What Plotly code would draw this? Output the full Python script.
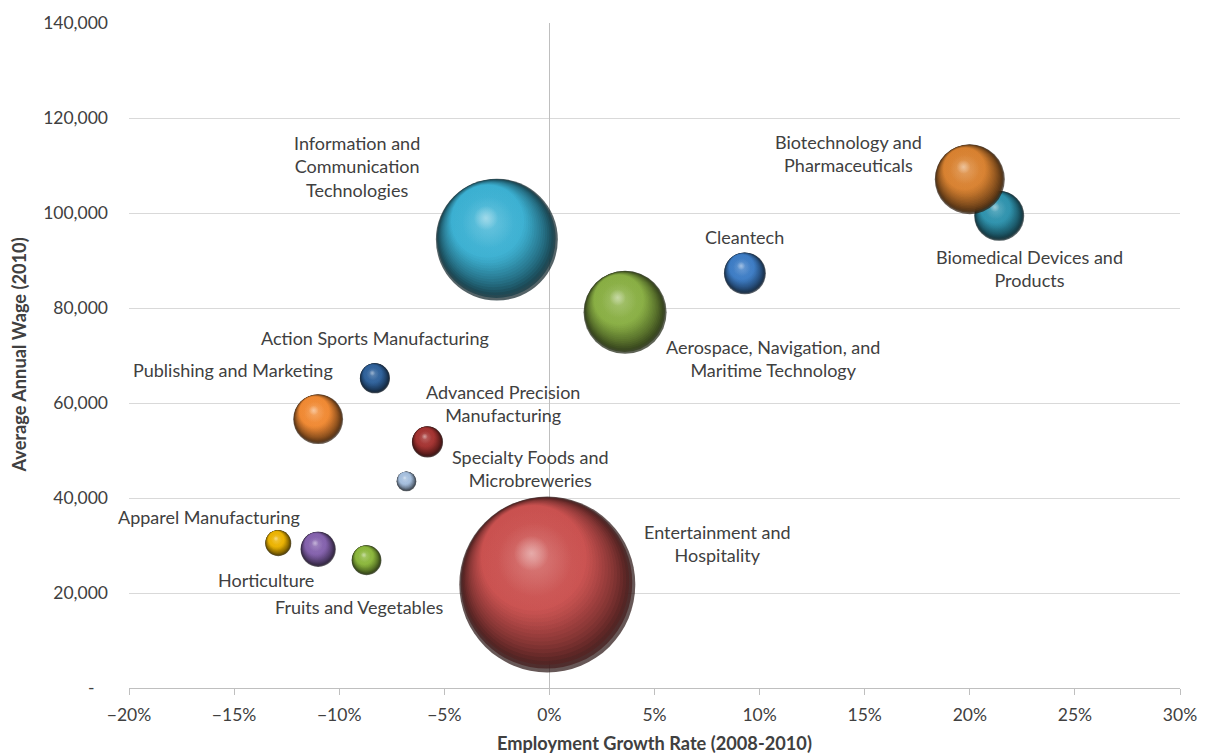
import numpy as np
import plotly.graph_objects as go

# ---- data -------------------------------------------------------------
clusters = [
    "Information and<br>Communication<br>Technologies",
    "Aerospace, Navigation, and<br>Maritime Technology",
    "Cleantech",
    "Biomedical Devices and<br>Products",
    "Biotechnology and<br>Pharmaceuticals",
    "Entertainment and<br>Hospitality",
    "Action Sports Manufacturing",
    "Publishing and Marketing",
    "Advanced Precision<br>Manufacturing",
    "Specialty Foods and<br>Microbreweries",
    "Apparel Manufacturing",
    "Horticulture",
    "Fruits and Vegetables",
]
growth_rate = [-0.025, 0.036, 0.093, 0.214, 0.200, -0.001, -0.083,
               -0.110, -0.058, -0.068, -0.129, -0.110, -0.087]
avg_wage = [94400, 79100, 87300, 99400, 107100, 21800, 65200,
            56600, 51800, 43500, 30500, 29200, 26900]
employment = [72000, 33400, 8500, 12100, 23700, 150000, 4400,
              12000, 4700, 1900, 3300, 6000, 4300]

y_tick_vals = [0, 20000, 40000, 60000, 80000, 100000, 120000, 140000]
y_tick_text = ["-\u00a0\u00a0\u00a0", "20,000", "40,000", "60,000", "80,000",
               "100,000", "120,000", "140,000"]

# ---- styles -----------------------------------------------------------
sphere_colors = ["#3CB2D4", "#8AB044", "#3D7DC6", "#2E93AE", "#DA8230",
                 "#CC5250", "#2F629C", "#F28A33", "#A53331", "#A6C0DF",
                 "#EDB400", "#8562AE", "#8CB83C"]
# label offsets from the bubble centre, in pixels (x right, y up)
label_shift = [(-140, 73), (148, -46), (0, 36), (30, -53), (-121, 26),
               (170, 41), (0, 40), (-85, 49), (76, 38), (124, 13),
               (-69, 26), (-52, -31), (-8, -47)]

FONT = "Lato, Calibri, sans-serif"
TEXT = "#404040"
W, H = 1209, 753
M = dict(l=129, r=26, t=19, b=65)
X_RANGE = [-0.20, 0.30]
Y_RANGE = [0, 140000]
MAX_DIAM = 176

plot_w = W - M["l"] - M["r"]
plot_h = H - M["t"] - M["b"]
px_per_x = plot_w / (X_RANGE[1] - X_RANGE[0])
px_per_y = plot_h / (Y_RANGE[1] - Y_RANGE[0])
sizeref = 2.0 * max(employment) / MAX_DIAM ** 2


def hex_rgb(h):
    h = h.lstrip("#")
    return np.array([int(h[i:i + 2], 16) for i in (0, 2, 4)], dtype=float)


def rgba(c, a=1.0):
    c = np.clip(c, 0, 255).round().astype(int)
    return f"rgba({c[0]},{c[1]},{c[2]},{a})"


def tint(c, f):
    return c + (255 - c) * f


light_dir = np.array([-0.45, 0.89])  # pixel direction: mostly up, a bit left

# shading: nested solid shells stepping from the dark edge into the lit body
SHADE_STEPS = 16
SHADE_DEPTH = 0.40    # total shrink of the innermost shell (fraction of radius)
SHADE_PULL = 0.85     # how far each shell is pulled towards the light
SHADE_GAMMA = 0.6

# soft glow layers over the body:
# (diameter fraction, shift toward the light as fraction of radius, tint, alpha)
glow_layers = [
    (0.70, 0.18, 0.10, 0.70),
    (0.42, 0.32, 0.35, 0.85),
    (0.20, 0.40, 0.70, 0.90),
]

fig = go.Figure()


def add_disc(gx, wy, emp, radius, frac, shift, edge, centre, name=None):
    off = radius * shift
    fig.add_trace(go.Scatter(
        x=[gx + light_dir[0] * off / px_per_x],
        y=[wy + light_dir[1] * off / px_per_y],
        mode="markers", name=name, hoverinfo="name" if name else "skip",
        marker=dict(size=[emp * frac ** 2], sizemode="area", sizeref=sizeref,
                    color=edge, line=dict(width=0),
                    gradient=dict(type="radial", color=centre)),
    ))


for i, name in enumerate(clusters):
    base = hex_rgb(sphere_colors[i])
    dark = base * 0.18
    gx, wy, emp = growth_rate[i], avg_wage[i], employment[i]
    radius = 0.5 * MAX_DIAM * np.sqrt(emp / max(employment))

    def tone(s):
        return dark + (base - dark) * min(1.0, s) ** SHADE_GAMMA

    for k in range(SHADE_STEPS + 1):
        s = k / SHADE_STEPS
        frac = 1.0 - SHADE_DEPTH * s
        shift = (1.0 - frac) * SHADE_PULL
        centre = tint(base, 0.06) if k == SHADE_STEPS else tone((k + 1) / SHADE_STEPS)
        add_disc(gx, wy, emp, radius, frac, shift, rgba(tone(s)), rgba(centre),
                 name=name.replace("<br>", " ") if k == 0 else None)

    for frac, shift, tnt, alpha in glow_layers:
        col = tint(base, tnt)
        add_disc(gx, wy, emp, radius, frac, shift, rgba(col, 0.0), rgba(col, alpha))

annotations = []
for i, name in enumerate(clusters):
    sx, sy = label_shift[i]
    annotations.append(dict(
        x=growth_rate[i], y=avg_wage[i], xref="x", yref="y",
        text=name, showarrow=False, xshift=sx, yshift=sy,
        font=dict(family=FONT, size=18, color=TEXT), align="center",
    ))

annotations.append(dict(
    text="<b>Employment Growth Rate (2008-2010)</b>", xref="paper", yref="paper",
    x=0.5, y=0, yshift=-55, showarrow=False, xanchor="center", yanchor="middle",
    font=dict(family=FONT, size=18.2, color=TEXT),
))
annotations.append(dict(
    text="<b>Average Annual Wage (2010)</b>", xref="paper", yref="paper",
    x=0, y=0.5, xshift=-111, showarrow=False, xanchor="center", yanchor="middle",
    textangle=-90, font=dict(family=FONT, size=18.2, color=TEXT),
))

axis_grey = "#BFBFBF"
fig.update_layout(
    width=W, height=H, margin=M,
    paper_bgcolor="white", plot_bgcolor="white",
    showlegend=False,
    font=dict(family=FONT, size=16, color=TEXT),
    annotations=annotations,
    xaxis=dict(
        range=X_RANGE, dtick=0.05, tick0=0, tickformat=".0%",
        showgrid=False, zeroline=True, zerolinecolor=axis_grey, zerolinewidth=1,
        showline=True, linecolor=axis_grey, linewidth=1,
        ticks="outside", ticklen=6, tickcolor=axis_grey,
        ticklabelstandoff=5, tickfont=dict(family=FONT, size=17.5, color=TEXT),
        fixedrange=True,
    ),
    xaxis2=dict(
        range=X_RANGE, dtick=0.05, tick0=0, overlaying="x", anchor="y",
        side="bottom", showgrid=False, zeroline=False, showline=False,
        ticks="inside", ticklen=6, tickcolor=axis_grey, showticklabels=False,
    ),
    yaxis=dict(
        range=Y_RANGE, tickvals=y_tick_vals, ticktext=y_tick_text,
        showgrid=True, gridcolor="#D9D9D9", gridwidth=1,
        zeroline=False, showline=False, ticks="",
        ticklabelstandoff=20, tickfont=dict(family=FONT, size=17.5, color=TEXT),
        fixedrange=True,
    ),
)

fig.write_html("out.html")
